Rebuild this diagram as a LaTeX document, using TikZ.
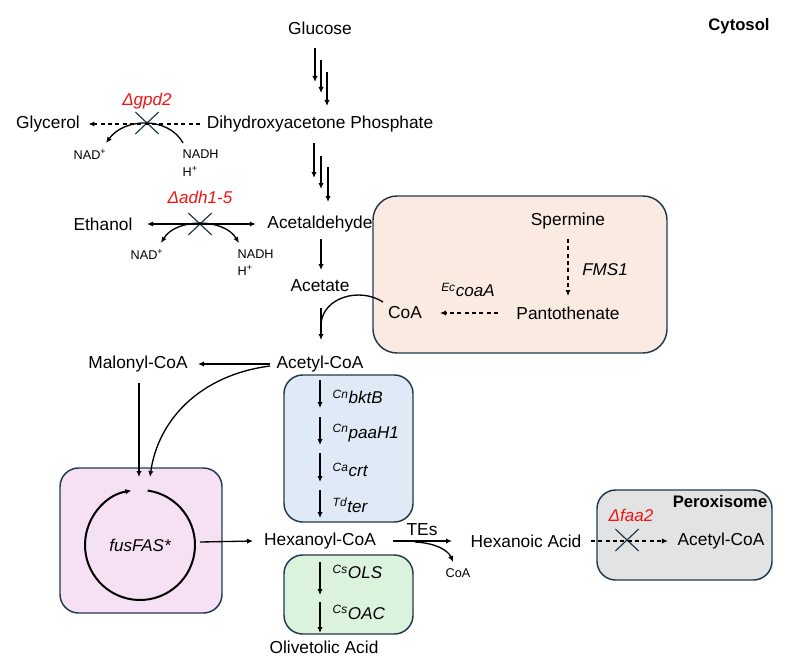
\documentclass[tikz,border=0pt]{standalone}
\usepackage{fontspec}
\setmainfont{Liberation Sans}
\usetikzlibrary{arrows.meta,calc,shapes.misc}

\definecolor{boxline}{HTML}{1F3A4F}
\definecolor{kored}{HTML}{F01414}
\definecolor{panfill}{HTML}{FBEAE1}
\definecolor{fasfill}{HTML}{F6E0F3}
\definecolor{rbofill}{HTML}{DFEAF6}
\definecolor{olsfill}{HTML}{DBF2DC}
\definecolor{perfill}{HTML}{E3E3E3}

\tikzset{
	met/.style={font=\fontsize{13}{15}\selectfont},
	cof/.style={font=\fontsize{9.5}{11}\selectfont},
	gene/.style={font=\fontsize{12.8}{15}\selectfont\itshape, anchor=west},
	ko/.style={font=\fontsize{12.8}{15}\selectfont\itshape, text=kored},
	compart/.style={font=\fontsize{12.5}{15}\selectfont\bfseries},
	rxn/.style={line width=1pt, -{Latex[length=4.5pt,width=4pt]}},
	drxn/.style={rxn, dash pattern=on 3pt off 2.5pt},
	knock/.style={cross out, draw=boxline, line width=0.9pt, minimum width=16.5pt, minimum height=15.5pt, inner sep=0pt},
	organelle/.style={draw=boxline, line width=1.1pt, rounded corners=14pt},
}

\begin{document}
\begin{tikzpicture}[x=0.75pt,y=-0.75pt]

\useasboundingbox (0,0) rectangle (787,656);

% compartments
\draw [organelle, fill=panfill, rounded corners=18pt] (373,196) rectangle (667,353);
\draw [organelle, fill=fasfill] (60,468) rectangle (222,613);
\draw [organelle, fill=rbofill] (284,375) rectangle (413,522);
\draw [organelle, fill=olsfill] (284,555) rectangle (413,634);
\draw [organelle, fill=perfill] (597,490) rectangle (772,580);

\node [compart] (cyto) at (739,26) {Cytosol};
\node [compart, anchor=east] (perox) at (772,502) {Peroxisome};

% glycolysis
\node [met] (glc) at (320,28) {Glucose};
\node [met] (dhap) at (320,124) {Dihydroxyacetone Phosphate};
\node [met] (acald) at (320,224) {Acetaldehyde};
\node [met] (ace) at (320,286) {Acetate};
\node [met] (accoa) at (320,364) {Acetyl-CoA};

\foreach \d/\a/\b in {-5/20/54, 1/32/65, 7/44/78} {
	\draw [rxn] ($(glc)+(\d,\a)$) -- ($(glc)+(\d,\b)$);
}
\foreach \d/\a/\b in {-6/19/54, 1/32/65, 8/43/78} {
	\draw [rxn] ($(dhap)+(\d,\a)$) -- ($(dhap)+(\d,\b)$);
}
\draw [rxn] ($(acald)+(1,15)$) -- ($(ace)+(1,-16)$);
\draw [rxn] ($(ace)+(1,22)$) -- ($(accoa)+(1,-24)$);

% glycerol branch
\node [met] (gly) at (48,124) {Glycerol};
\node [knock] (xgpd) at (147,123) {};
\node [ko] (kgpd) at (147,101) {Δgpd2};
\node [cof] (nad1) at (90,154) {NAD\textsuperscript{+}};
\node [cof, anchor=west] (nadh1) at (178,154) {NADH};
\node [cof, anchor=west] (hp1) at (178,171) {H\textsuperscript{+}};
\draw [drxn] ($(dhap.west)+(-2,0)$) -- ($(gly.east)+(4,0)$);
\draw [rxn] ($(xgpd)+(36,20)$) .. controls ($(xgpd)+(22,-6)$) and ($(xgpd)+(-22,-6)$) .. ($(xgpd)+(-41,20)$);

% ethanol branch
\node [met] (etoh) at (103,224) {Ethanol};
\node [knock] (xadh) at (200,224) {};
\node [ko] (kadh) at (200,197) {Δadh1-5};
\node [cof] (nad2) at (147,254) {NAD\textsuperscript{+}};
\node [cof, anchor=west] (nadh2) at (233,254) {NADH};
\node [cof, anchor=west] (hp2) at (233,270) {H\textsuperscript{+}};
\draw [rxn, {Latex[length=4.5pt,width=4pt]}-{Latex[length=4.5pt,width=4pt]}] ($(etoh.east)+(10,0)$) -- ($(acald.west)+(-7,0)$);
\draw [rxn, {Latex[length=4.5pt,width=4pt]}-{Latex[length=4.5pt,width=4pt]}] ($(xadh)+(-39,19)$) .. controls ($(xadh)+(-24,-6)$) and ($(xadh)+(24,-6)$) .. ($(xadh)+(39,19)$);

% CoA supply
\node [met] (spm) at (568,221) {Spermine};
\node [met] (pan) at (568,313) {Pantothenate};
\node [met] (coa) at (405,313) {CoA};
\node [gene, anchor=center] (fms) at (605,270) {FMS1};
\node [gene, anchor=center] (coaa) at (468,290) {\textsuperscript{Ec}coaA};
\draw [drxn] ($(spm)+(0,18)$) -- ($(pan)+(0,-17)$);
\draw [drxn] ($(pan)+(-70,0)$) -- ($(coa)+(35,0)$);
\draw [line width=1pt] ($(coa)+(-22,-11)$) .. controls ($(coa)+(-45,-26)$) and ($(coa)+(-82,-16)$) .. ($(ace)+(1,38)$);

% malonyl-CoA and FAS
\node [met] (malcoa) at (138,364) {Malonyl-CoA};
\node [gene, anchor=center] (fas) at (140,545) {fusFAS*};
\draw [rxn] ($(accoa)+(-50,0)$) -- ($(malcoa)+(60,0)$);
\draw [rxn] ($(malcoa)+(1,19)$) -- ($(fas)+(-1,-68)$);
\draw [rxn] ($(accoa)+(-50,2)$) .. controls (200,375) and (158,420) .. ($(fas)+(10,-68)$);
\draw [rxn, line width=1.5pt] (fas) ++(-82:55) arc [start angle=-82, end angle=261, radius=55];

% reverse beta-oxidation
\node [met] (hexcoa) at (320,541) {Hexanoyl-CoA};
\draw [rxn] ($(fas)+(60,-3)$) -- ($(hexcoa)+(-67,0)$);
\foreach \ya/\yb/\yl/\lab [count=\i] in {380/408/397/{\textsuperscript{Cn}bktB}, 417/445/433/{\textsuperscript{Cn}paaH1}, 453/482/470/{\textsuperscript{Ca}crt}, 490/518/505/{\textsuperscript{Td}ter}} {
	\draw [rxn] (320,\ya) -- (320,\yb);
	\node [gene] (rbo\i) at (328,\yl) {\lab};
}

% olivetolic acid
\node [met] (ola) at (324,647) {Olivetolic Acid};
\foreach \ya/\yb/\yl/\lab [count=\i] in {562/595/572/{\textsuperscript{Cs}OLS}, 602/633/612/{\textsuperscript{Cs}OAC}} {
	\draw [rxn] (320,\ya) -- (320,\yb);
	\node [gene] (ols\i) at (328,\yl) {\lab};
}

% hexanoic acid
\node [met] (hexa) at (526,541) {Hexanoic Acid};
\node [met] (tes) at (422,530) {TEs};
\node [cof] (coa2) at (458,573) {CoA};
\draw [rxn] ($(hexcoa)+(73,0)$) -- ($(hexa)+(-74,0)$);
\draw [rxn] ($(hexcoa)+(95,1)$) .. controls ($(hexcoa)+(115,2)$) and ($(hexcoa)+(128,9)$) .. ($(coa2)+(-5,-11)$);

% peroxisome
\node [met] (paccoa) at (721,541) {Acetyl-CoA};
\node [knock] (xfaa) at (627,540) {};
\node [ko] (kfaa) at (631,515) {Δfaa2};
\draw [drxn] ($(hexa)+(65,0)$) -- ($(paccoa.west)+(-5,0)$);

\end{tikzpicture}
\end{document}
